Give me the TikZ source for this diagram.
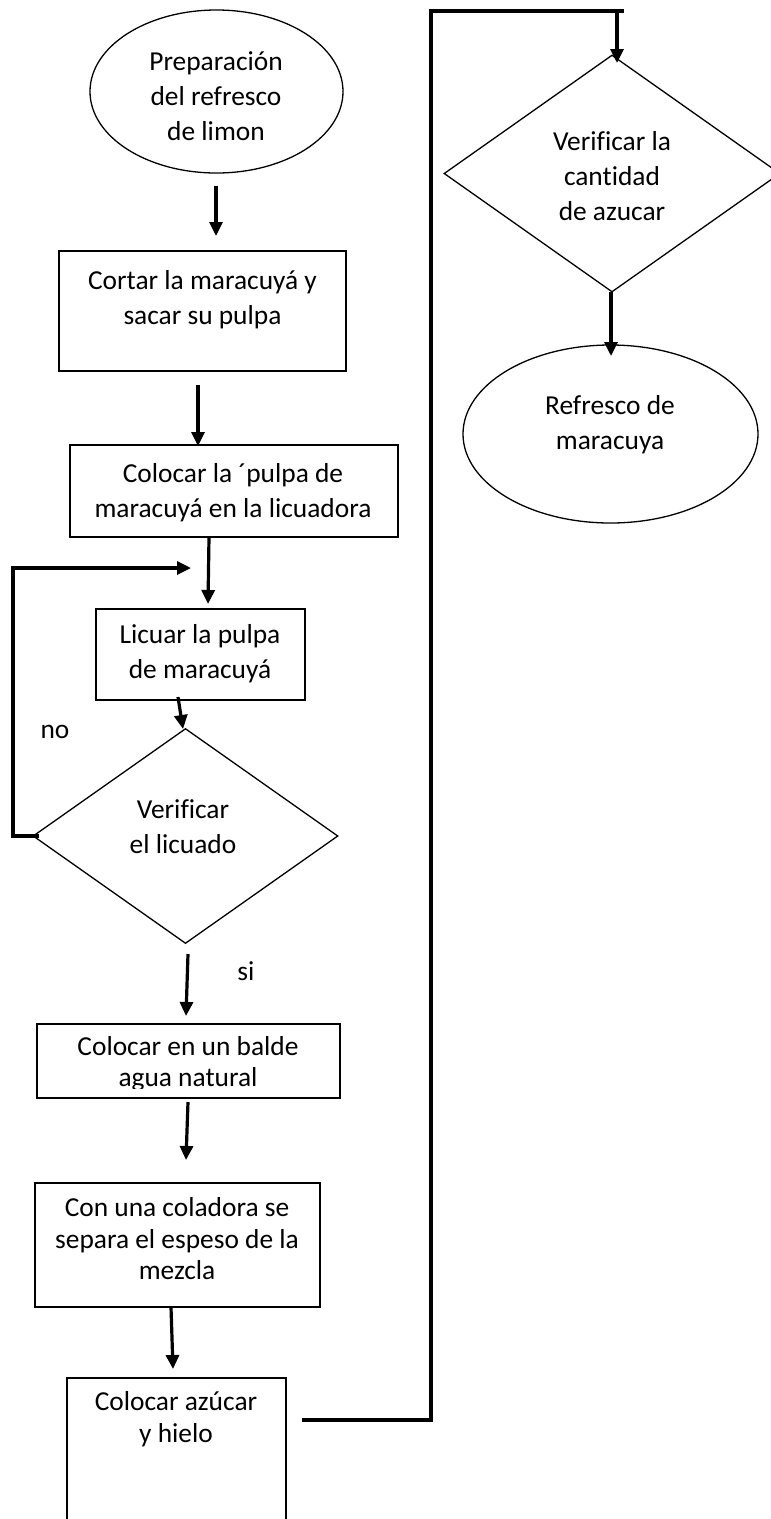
\documentclass[tikz,border=0pt]{standalone}
\usepackage{fontspec}
\setmainfont[Ligatures={NoCommon,NoContextual}]{Carlito}
\usetikzlibrary{shapes.geometric,arrows.meta}
\begin{document}
\begin{tikzpicture}[x=1pt,y=-1pt,
  outl/.style={draw,line width=1.3pt,inner sep=0pt},
  box/.style={outl,rectangle},
  ell/.style={outl,ellipse},
  dia/.style={outl,diamond},
  txt/.style={align=center,font=\fontsize{27.4}{35}\selectfont,inner sep=0pt},
  txtb/.style={align=center,font=\fontsize{27.4}{31.5}\selectfont,inner sep=0pt},
  conn/.style={line width=3.2pt},
  arr/.style={conn,-{Triangle[width=13pt,length=14pt]}}]
\useasboundingbox (0,0) rectangle (771,1519);
\clip (0,0) rectangle (771,1519);

% shapes
\node[ell,minimum width=253pt,minimum height=163pt] (e1) at (216.5,91.5) {};
\node[box,minimum width=287pt,minimum height=120pt] (b2) at (202.5,311) {};
\node[box,minimum width=328pt,minimum height=92pt] (b3) at (234,491) {};
\node[box,minimum width=209pt,minimum height=91pt] (b4) at (200.5,654.5) {};
\node[dia,minimum width=305pt,minimum height=215pt] (d1) at (185.5,836) {};
\node[box,minimum width=303pt,minimum height=74pt] (b5) at (188.5,1061) {};
\node[box,minimum width=285pt,minimum height=124pt] (b6) at (177.5,1245) {};
\node[box,minimum width=219pt,minimum height=162pt] (b7) at (176.5,1459) {};
\node[dia,minimum width=336pt,minimum height=237pt] (d2) at (612,173.5) {};
\node[ell,minimum width=295pt,minimum height=178pt] (e2) at (610.5,434) {};

% texts
\node[txt] (t1) at (216,96) {Preparación\\del refresco\\de limon};
\node[txt] (t2) at (202.5,300) {Cortar la maracuyá y\\sacar su pulpa};
\node[txt] (t3) at (233,493) {Colocar la ´pulpa de\\maracuyá en la licuadora};
\node[txt] (t4) at (200,654) {Licuar la pulpa\\de maracuyá};
\node[txt] (t5) at (183,827) {Verificar\\el licuado};
\begin{scope}
\clip (0,1000) rectangle (771,1088);
\node[txtb] (t6) at (188,1064) {Colocar en un balde\\agua natural};
\end{scope}
\node[txtb] (t7) at (177,1239) {Con una coladora se\\separa el espeso de la\\mezcla};
\node[txtb] (t8) at (176,1419) {Colocar azúcar\\y hielo};
\node[txt] (t9) at (612,176) {Verificar la\\cantidad\\de azucar};
\node[txt] (t10) at (610,425) {Refresco de\\maracuya};
\node[txt] (no) at (55,732) {no};
\node[txt] (si) at (246,971) {si};

% connector end points
\coordinate (a1s) at (216,186);  \coordinate (a1e) at (216,236);
\coordinate (a2s) at (198,385);  \coordinate (a2e) at (198,446);
\coordinate (a3s) at (209,537);  \coordinate (a3e) at (208,604);
\coordinate (a4s) at (178,697);  \coordinate (a4e) at (183,729);
\coordinate (c1) at (13,836); \coordinate (c2) at (13,568); \coordinate (c3) at (191,568);
\coordinate (a5s) at (188,954);  \coordinate (a5e) at (186,1016);
\coordinate (a6s) at (188,1102); \coordinate (a6e) at (186,1160);
\coordinate (a7s) at (171,1307); \coordinate (a7e) at (173,1369);
\coordinate (L0) at (302,1420); \coordinate (L1) at (431,1420);
\coordinate (L2) at (431,11); \coordinate (L3) at (624,11);
\coordinate (a8s) at (617,11); \coordinate (a8e) at (617,63);
\coordinate (a9s) at (611,292); \coordinate (a9e) at (611,356);

% connectors
\draw[arr] (a1s) -- (a1e);
\draw[arr] (a2s) -- (a2e);
\draw[arr] (a3s) -- (a3e);
\draw[arr] (a4s) -- (a4e);
\draw[arr] ([xshift=7pt]d1.west) -- (c1) -- (c2) -- (c3);
\draw[arr] (a5s) -- (a5e);
\draw[arr] (a6s) -- (a6e);
\draw[arr] (a7s) -- (a7e);
\draw[conn] (L0) -- (L1) -- (L2) -- (L3);
\draw[arr] (a8s) -- (a8e);
\draw[arr] (a9s) -- (a9e);
\end{tikzpicture}
\end{document}
